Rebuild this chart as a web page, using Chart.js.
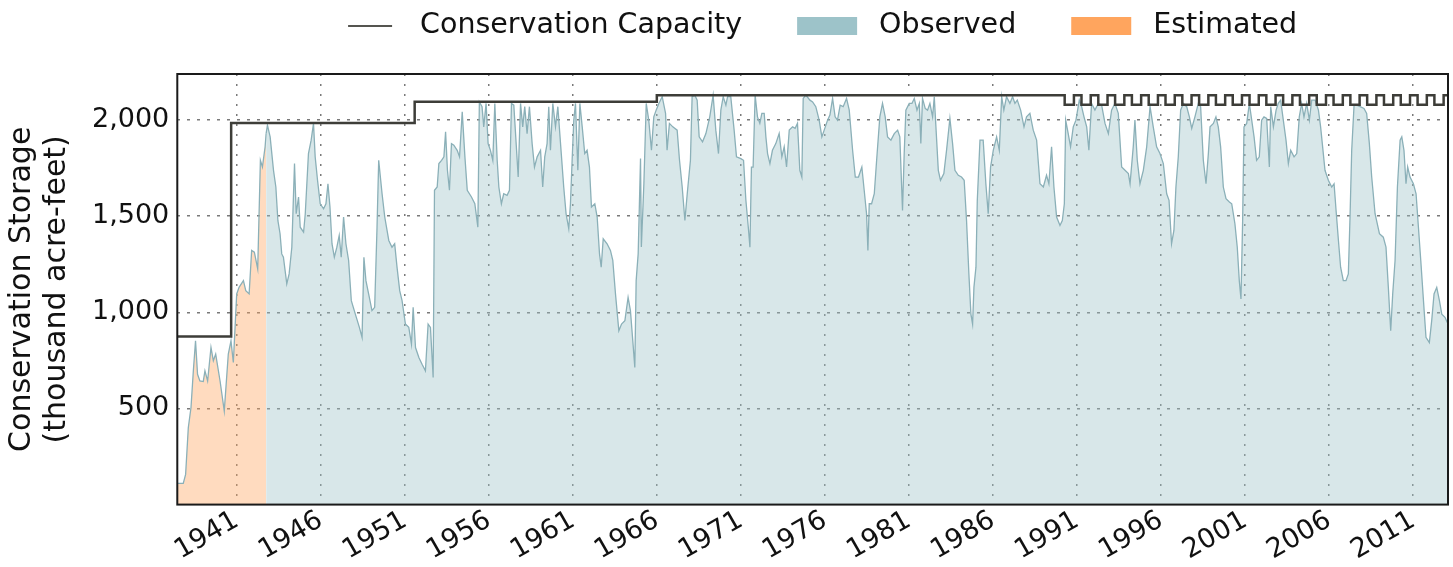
<!DOCTYPE html>
<html>
<head>
<meta charset="utf-8">
<title>Conservation Storage</title>
<script src="https://cdn.jsdelivr.net/npm/chart.js@4.4.1/dist/chart.umd.min.js"></script>
<style>
  html, body { margin: 0; padding: 0; background: #fff; }
</style>
</head>
<body>
<canvas id="storageChart" width="1453" height="567"></canvas>
<script>
// Axis ticks
const xTickYears = [1941, 1946, 1951, 1956, 1961, 1966, 1971, 1976, 1981, 1986, 1991, 1996, 2001, 2006, 2011];
const yTickValues = [500, 1000, 1500, 2000];

// Conservation capacity (stepped, value holds from each date on)
const capYears = [1937.465, 1940.67, 1951.59, 1966.0,
  1990.27, 1990.82, 1991.27, 1991.82, 1992.27, 1992.82, 1993.27, 1993.82,
  1994.27, 1994.82, 1995.27, 1995.82, 1996.27, 1996.82, 1997.27, 1997.82,
  1998.27, 1998.82, 1999.27, 1999.82, 2000.27, 2000.82, 2001.27, 2001.82,
  2002.27, 2002.82, 2003.27, 2003.82, 2004.27, 2004.82, 2005.27, 2005.82,
  2006.27, 2006.82, 2007.27, 2007.82, 2008.27, 2008.82, 2009.27, 2009.82,
  2010.27, 2010.82, 2011.27, 2011.82, 2012.27, 2012.82, 2013.08];
const capValues = [875, 1985, 2095, 2130,
  2080, 2130, 2080, 2130, 2080, 2130, 2080, 2130,
  2080, 2130, 2080, 2130, 2080, 2130, 2080, 2130,
  2080, 2130, 2080, 2130, 2080, 2130, 2080, 2130,
  2080, 2130, 2080, 2130, 2080, 2130, 2080, 2130,
  2080, 2130, 2080, 2130, 2080, 2130, 2080, 2130,
  2080, 2130, 2080, 2130, 2080, 2130, 2130];

// Estimated storage (before gauge records)
const estYears = [1937.465, 1937.82, 1937.96, 1938.12, 1938.28, 1938.42, 1938.55, 1938.67, 1938.81, 1939.01,
  1939.11, 1939.27, 1939.47, 1939.61, 1939.75, 1940.01, 1940.26, 1940.50, 1940.66, 1940.80,
  1941.00, 1941.14, 1941.40, 1941.54, 1941.74, 1941.89, 1942.05, 1942.25, 1942.41, 1942.53,
  1942.69, 1942.75];
const estValues = [110, 110, 157, 400, 505, 696, 852, 678, 643, 640,
  696, 643, 817, 748, 783, 643, 487, 783, 852, 739,
  1096, 1130, 1165, 1113, 1096, 1322, 1313, 1226, 1791, 1756,
  1861, 1930];

// Observed storage
const obsYears = [1942.75, 1942.83, 1942.99, 1943.19, 1943.33, 1943.45, 1943.58, 1943.68, 1943.78, 1943.98,
  1944.12, 1944.28, 1944.44, 1944.54, 1944.68, 1944.78, 1944.98, 1945.08, 1945.27, 1945.43,
  1945.57, 1945.67, 1945.81, 1945.97, 1946.17, 1946.31, 1946.43, 1946.55, 1946.67, 1946.81,
  1946.96, 1947.10, 1947.22, 1947.36, 1947.50, 1947.66, 1947.82, 1948.06, 1948.30, 1948.46,
  1948.57, 1948.69, 1948.85, 1949.05, 1949.21, 1949.35, 1949.45, 1949.65, 1949.81, 1950.05,
  1950.24, 1950.40, 1950.54, 1950.70, 1950.84, 1951.04, 1951.24, 1951.40, 1951.50, 1951.64,
  1951.84, 1952.03, 1952.23, 1952.39, 1952.53, 1952.69, 1952.77, 1952.93, 1953.03, 1953.19,
  1953.33, 1953.43, 1953.54, 1953.66, 1953.78, 1953.92, 1954.12, 1954.26, 1954.42, 1954.58,
  1954.72, 1954.97, 1955.17, 1955.35, 1955.44, 1955.60, 1955.70, 1955.84, 1955.96, 1956.10,
  1956.24, 1956.36, 1956.50, 1956.60, 1956.75, 1956.89, 1957.09, 1957.23, 1957.35, 1957.49,
  1957.63, 1957.75, 1957.89, 1958.02, 1958.14, 1958.28, 1958.42, 1958.58, 1958.72, 1958.88,
  1959.08, 1959.21, 1959.33, 1959.47, 1959.57, 1959.67, 1959.81, 1959.97, 1960.11, 1960.27,
  1960.46, 1960.60, 1960.76, 1960.86, 1960.96, 1961.06, 1961.16, 1961.30, 1961.42, 1961.56,
  1961.71, 1961.85, 1961.99, 1962.11, 1962.31, 1962.45, 1962.59, 1962.69, 1962.81, 1963.04,
  1963.24, 1963.38, 1963.54, 1963.74, 1963.90, 1964.10, 1964.29, 1964.43, 1964.57, 1964.69,
  1964.77, 1964.89, 1965.03, 1965.08, 1965.23, 1965.37, 1965.52, 1965.68, 1965.82, 1965.96,
  1966.12, 1966.32, 1966.52, 1966.61, 1966.75, 1966.95, 1967.21, 1967.35, 1967.51, 1967.67,
  1967.81, 1968.00, 1968.10, 1968.26, 1968.40, 1968.52, 1968.72, 1968.92, 1969.15, 1969.35,
  1969.51, 1969.67, 1969.81, 1969.95, 1970.11, 1970.21, 1970.40, 1970.60, 1970.74, 1971.00,
  1971.16, 1971.30, 1971.46, 1971.54, 1971.63, 1971.73, 1971.85, 1971.99, 1972.13, 1972.25,
  1972.39, 1972.49, 1972.59, 1972.73, 1972.88, 1973.08, 1973.28, 1973.44, 1973.58, 1973.72,
  1973.88, 1974.08, 1974.23, 1974.37, 1974.51, 1974.63, 1974.71, 1974.87, 1975.11, 1975.27,
  1975.46, 1975.66, 1975.82, 1975.96, 1976.16, 1976.30, 1976.46, 1976.61, 1976.75, 1976.91,
  1977.09, 1977.29, 1977.45, 1977.65, 1977.81, 1978.00, 1978.20, 1978.34, 1978.48, 1978.56,
  1978.64, 1978.78, 1978.94, 1979.08, 1979.27, 1979.43, 1979.59, 1979.73, 1979.93, 1980.13,
  1980.33, 1980.46, 1980.62, 1980.72, 1980.82, 1981.02, 1981.18, 1981.32, 1981.48, 1981.62,
  1981.71, 1981.81, 1981.97, 1982.11, 1982.25, 1982.41, 1982.51, 1982.75, 1982.88, 1983.08,
  1983.24, 1983.44, 1983.60, 1983.74, 1983.94, 1984.13, 1984.29, 1984.43, 1984.57, 1984.69,
  1984.79, 1984.87, 1984.99, 1985.07, 1985.23, 1985.42, 1985.58, 1985.72, 1985.86, 1986.02,
  1986.22, 1986.38, 1986.52, 1986.65, 1986.81, 1987.01, 1987.17, 1987.31, 1987.45, 1987.65,
  1987.85, 1988.00, 1988.20, 1988.40, 1988.60, 1988.80, 1989.00, 1989.19, 1989.33, 1989.49,
  1989.63, 1989.79, 1989.99, 1990.13, 1990.25, 1990.33, 1990.48, 1990.62, 1990.78, 1990.94,
  1991.14, 1991.28, 1991.42, 1991.58, 1991.71, 1991.87, 1992.07, 1992.27, 1992.47, 1992.67,
  1992.87, 1993.06, 1993.26, 1993.46, 1993.66, 1993.86, 1994.06, 1994.16, 1994.35, 1994.45,
  1994.59, 1994.75, 1994.95, 1995.15, 1995.35, 1995.54, 1995.74, 1995.94, 1996.14, 1996.34,
  1996.48, 1996.63, 1996.77, 1996.89, 1997.03, 1997.17, 1997.33, 1997.53, 1997.69, 1997.83,
  1998.02, 1998.22, 1998.36, 1998.52, 1998.68, 1998.82, 1998.92, 1999.12, 1999.27, 1999.41,
  1999.55, 1999.71, 1999.87, 2000.07, 2000.21, 2000.40, 2000.54, 2000.66, 2000.76, 2000.86,
  2000.94, 2001.10, 2001.26, 2001.40, 2001.54, 2001.69, 2001.85, 2001.99, 2002.13, 2002.29,
  2002.45, 2002.53, 2002.69, 2002.85, 2002.98, 2003.12, 2003.28, 2003.44, 2003.58, 2003.72,
  2003.92, 2004.08, 2004.23, 2004.37, 2004.51, 2004.67, 2004.83, 2004.97, 2005.17, 2005.37,
  2005.50, 2005.62, 2005.76, 2005.96, 2006.16, 2006.30, 2006.42, 2006.56, 2006.69, 2006.85,
  2007.01, 2007.15, 2007.25, 2007.35, 2007.49, 2007.65, 2007.85, 2008.08, 2008.24, 2008.40,
  2008.54, 2008.74, 2009.00, 2009.23, 2009.39, 2009.53, 2009.67, 2009.79, 2009.93, 2010.07,
  2010.23, 2010.33, 2010.46, 2010.58, 2010.68, 2010.82, 2011.02, 2011.18, 2011.32, 2011.46,
  2011.62, 2011.77, 2011.97, 2012.11, 2012.25, 2012.41, 2012.57, 2012.71, 2012.90, 2013.08];
const obsValues = [1930, 1974, 1913, 1739, 1652, 1478, 1409, 1304, 1287, 1148,
  1200, 1339, 1774, 1513, 1600, 1443, 1417, 1513, 1826, 1896,
  1983, 1809, 1687, 1565, 1539, 1565, 1669, 1548, 1357, 1287,
  1339, 1400, 1287, 1496, 1357, 1270, 1061, 991, 922, 870,
  1287, 1165, 1096, 1009, 1026, 1443, 1791, 1617, 1496, 1374,
  1339, 1357, 1235, 1113, 1061, 939, 922, 835, 1026, 817,
  765, 730, 696, 939, 922, 661, 1635, 1652, 1774, 1791,
  1809, 1939, 1739, 1635, 1878, 1870, 1843, 1809, 2043, 1809,
  1635, 1600, 1565, 1443, 2095, 2070, 1965, 2087, 1878, 1843,
  1791, 2087, 1791, 1652, 1565, 1617, 1609, 1635, 2087, 2078,
  1878, 1704, 2087, 1965, 2070, 1930, 2070, 1878, 1756, 1809,
  1843, 1652, 1809, 1878, 2070, 1843, 2087, 1965, 2070, 1878,
  1652, 1513, 1435, 1565, 1791, 2000, 2087, 1739, 2087, 1965,
  1826, 1843, 1756, 1548, 1565, 1496, 1304, 1235, 1383, 1357,
  1322, 1270, 1096, 904, 939, 957, 1078, 1009, 852, 713,
  1165, 1304, 1800, 1340, 1670, 2087, 2000, 1843, 2017, 2052,
  2087, 2122, 2035, 1843, 1983, 1965, 1948, 1791, 1652, 1478,
  1617, 1791, 2122, 2130, 2104, 1913, 1887, 1930, 2017, 2130,
  1948, 1826, 2052, 2122, 2078, 2122, 2122, 1948, 1809, 1800,
  1791, 1583, 1426, 1339, 1756, 1756, 2130, 2017, 1983, 2035,
  2035, 1913, 1826, 1774, 1843, 1878, 1930, 1809, 1861, 1756,
  1948, 1965, 1957, 1983, 1739, 1704, 2113, 2130, 2104, 2095,
  2070, 2000, 1913, 1948, 2000, 2026, 2113, 2017, 2000, 2078,
  2070, 2113, 2052, 1843, 1704, 1704, 1756, 1635, 1513, 1322,
  1565, 1565, 1617, 1791, 2017, 2087, 2017, 1913, 1896, 1930,
  1948, 1913, 1530, 1826, 2052, 2087, 2087, 2113, 2052, 2087,
  1878, 2113, 2061, 2052, 2087, 2017, 2122, 1739, 1687, 1722,
  1843, 2009, 1878, 1739, 1713, 1704, 1687, 1478, 1200, 991,
  939, 1130, 1235, 1583, 1896, 1896, 1669, 1513, 1756, 1843,
  1913, 1843, 2122, 2052, 2122, 2087, 2122, 2087, 2104, 2052,
  1965, 2017, 2035, 1948, 1896, 1669, 1652, 1713, 1669, 1861,
  1652, 1496, 1452, 1478, 1565, 2000, 1930, 1861, 1965, 2000,
  2104, 2070, 2017, 1965, 1843, 2087, 2052, 2087, 2078, 1983,
  1930, 2052, 2087, 2035, 1756, 1739, 1722, 1669, 1861, 2000,
  1791, 1669, 1739, 1861, 2070, 1965, 1861, 1826, 1774, 1617,
  1583, 1357, 1426, 1652, 1809, 2052, 2087, 2070, 2017, 1957,
  2017, 2087, 2070, 1791, 1669, 1826, 1965, 1983, 2017, 1965,
  1861, 1652, 1591, 1574, 1565, 1461, 1339, 1165, 1070, 1478,
  1965, 1983, 2087, 2000, 1913, 1791, 1809, 2000, 2017, 2009,
  1756, 2070, 1965, 2052, 2087, 2104, 2000, 1896, 1774, 1843,
  1809, 1826, 2017, 2087, 2017, 2087, 2000, 2104, 2104, 2052,
  1965, 1861, 1739, 1687, 1652, 1669, 1530, 1374, 1235, 1165,
  1165, 1200, 1496, 1843, 2078, 2078, 2070, 2061, 2035, 1878,
  1704, 1513, 1409, 1391, 1339, 1130, 904, 1096, 1270, 1652,
  1896, 1913, 1843, 1669, 1756, 1704, 1669, 1617, 1443, 1270,
  1061, 870, 843, 957, 1096, 1130, 1061, 991, 974, 939];

const legendItems = [
  { label: "Conservation Capacity", kind: "line", color: "#555550" },
  { label: "Observed", kind: "box", color: "#9dc3c9" },
  { label: "Estimated", kind: "box", color: "#ffa55e" }
];

const FONT = '"DejaVu Sans", "Bitstream Vera Sans", sans-serif';
Chart.defaults.font.family = FONT;
Chart.defaults.font.size = 27;
Chart.defaults.color = "#111";

const toPoints = (xs, ys) => xs.map((x, i) => ({ x: x, y: ys[i] }));

// black box around the plot area
const frame = {
    id: "frame",
    afterDatasetsDraw(chart) {
        const a = chart.chartArea;
        const ctx = chart.ctx;
        ctx.save();
        ctx.strokeStyle = "#1a1a1a";
        ctx.lineWidth = 2;
        ctx.strokeRect(a.left, a.top, a.right - a.left, a.bottom - a.top);
        ctx.restore();
    }
};

// legend row above the plot
const topLegend = {
    id: "topLegend",
    afterDraw(chart) {
        const ctx = chart.ctx;
        const a = chart.chartArea;
        ctx.save();
        ctx.font = "28.5px " + FONT;
        ctx.textBaseline = "middle";
        const lineW = 44, boxW = 60, itemGap = 55;
        const keyGap = it => it.kind === "line" ? 28 : 22;
        const keyW = it => it.kind === "line" ? lineW : boxW;
        let total = 0;
        legendItems.forEach((it, i) => {
            total += keyW(it) + keyGap(it) + ctx.measureText(it.label).width;
            if (i < legendItems.length - 1) total += itemGap;
        });
        // legend sits a little right of the plot centre
        let x = (a.left + a.right) / 2 - total / 2 + 10;
        const y = 26;
        legendItems.forEach(it => {
            if (it.kind === "line") {
                ctx.strokeStyle = it.color;
                ctx.lineWidth = 2;
                ctx.beginPath();
                ctx.moveTo(x, y);
                ctx.lineTo(x + lineW, y);
                ctx.stroke();
            } else {
                ctx.fillStyle = it.color;
                ctx.fillRect(x, y - 9, boxW, 18);
            }
            x += keyW(it) + keyGap(it);
            ctx.fillStyle = "#111";
            ctx.fillText(it.label, x, y);
            x += ctx.measureText(it.label).width + itemGap;
        });
        ctx.restore();
    }
};

new Chart(document.getElementById("storageChart"), {
    type: "line",
    data: {
        datasets: [
            {
                label: "Conservation Capacity",
                data: toPoints(capYears, capValues),
                borderColor: "#3d3d38",
                borderWidth: 2.5,
                stepped: true,
                pointRadius: 0,
                fill: false
            },
            {
                label: "Observed",
                data: toPoints(obsYears, obsValues),
                borderColor: "#8bb0b8",
                borderWidth: 1.3,
                backgroundColor: "rgba(157, 195, 201, 0.4)",
                pointRadius: 0,
                tension: 0,
                fill: "origin"
            },
            {
                label: "Estimated",
                data: toPoints(estYears, estValues),
                borderColor: "#8bb0b8",
                borderWidth: 1.3,
                backgroundColor: "rgba(255, 165, 94, 0.4)",
                pointRadius: 0,
                tension: 0,
                fill: "origin"
            }
        ]
    },
    options: {
        responsive: false,
        animation: false,
        layout: { padding: { top: 74, right: 5, left: 5, bottom: 0 } },
        plugins: {
            legend: { display: false },
            tooltip: { enabled: false }
        },
        scales: {
            x: {
                type: "linear",
                min: 1937.465,
                max: 2013.08,
                afterBuildTicks: axis => { axis.ticks = xTickYears.map(v => ({ value: v })); },
                ticks: {
                    autoSkip: false,
                    minRotation: 30,
                    maxRotation: 30,
                    padding: 0,
                    callback: v => String(v)
                },
                grid: { color: "#7a7a7a", lineWidth: 1.5, drawTicks: false },
                border: { display: false, dash: [2, 8] }
            },
            y: {
                min: 0,
                max: 2240,
                afterBuildTicks: axis => { axis.ticks = yTickValues.map(v => ({ value: v })); },
                ticks: {
                    padding: 8,
                    callback: v => v.toLocaleString("en-US")
                },
                grid: { color: "#7a7a7a", lineWidth: 1.5, drawTicks: false },
                border: { display: false, dash: [3, 7] },
                title: {
                    display: true,
                    text: ["Conservation Storage", "(thousand acre-feet)"],
                    font: { size: 30, lineHeight: 1.15 },
                    padding: { top: 0, bottom: 10 }
                }
            }
        }
    },
    plugins: [frame, topLegend]
});
</script>
</body>
</html>
